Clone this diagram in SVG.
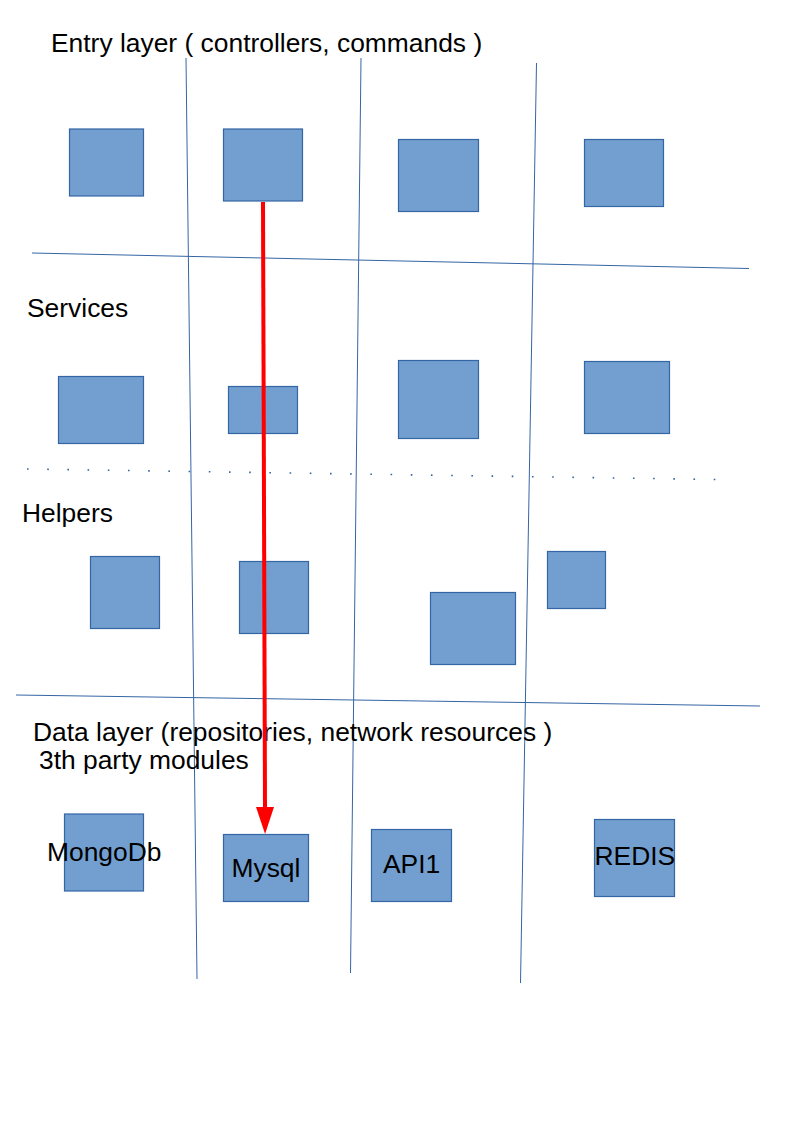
<svg xmlns="http://www.w3.org/2000/svg" width="794" height="1123" viewBox="0 0 794 1123">
<defs>
<style>
.box{fill:#729fcf;stroke:#3465a4;stroke-width:1.2}
.grid{stroke:#3465a4;stroke-width:1;fill:none}
.dots{stroke:#3465a4;stroke-width:1.6;fill:none;stroke-dasharray:1.6 18.6}
.lbl{font-family:"Liberation Sans",Arial,sans-serif;font-size:26.4px;fill:#000}
</style>
<marker id="ah" markerWidth="27" markerHeight="18" refX="0" refY="9" orient="auto" markerUnits="userSpaceOnUse" viewBox="0 0 27 18">
<polygon points="0,0 27,9 0,18" fill="#ff0000"/>
</marker>
</defs>
<rect width="794" height="1123" fill="#ffffff"/>
<g id="grid">
<line class="grid" x1="186" y1="58" x2="197" y2="979"/>
<line class="grid" x1="361" y1="58" x2="350.5" y2="973"/>
<line class="grid" x1="536.5" y1="63" x2="520.5" y2="983"/>
<line class="grid" x1="32" y1="253" x2="749" y2="268.5"/>
<line class="grid" x1="16" y1="695" x2="760" y2="706"/>
<line class="dots" x1="27" y1="469" x2="716" y2="479.5"/>
</g>
<g id="labels">
<text class="lbl" x="51" y="52">Entry layer ( controllers, commands )</text>
<text class="lbl" x="27" y="317">Services</text>
<text class="lbl" x="22" y="522">Helpers</text>
<text class="lbl" x="33" y="741">Data layer (repositories, network resources )</text>
<text class="lbl" x="39" y="769">3th party modules</text>
</g>
<g id="entry-1"><rect class="box" x="69.5" y="129" width="74" height="67"/></g>
<g id="entry-2"><rect class="box" x="223.5" y="129" width="79" height="72"/></g>
<g id="entry-3"><rect class="box" x="398.5" y="139.5" width="80" height="72"/></g>
<g id="entry-4"><rect class="box" x="584.5" y="139.5" width="79" height="67"/></g>
<g id="service-1"><rect class="box" x="58.5" y="376.5" width="85" height="67"/></g>
<g id="service-2"><rect class="box" x="228.5" y="386.5" width="69" height="47"/></g>
<g id="service-3"><rect class="box" x="398.5" y="360.5" width="80" height="78"/></g>
<g id="service-4"><rect class="box" x="584.5" y="361.5" width="85" height="72"/></g>
<g id="helper-1"><rect class="box" x="90.5" y="556.5" width="69" height="72"/></g>
<g id="helper-2"><rect class="box" x="239.5" y="561.5" width="69" height="72"/></g>
<g id="helper-3"><rect class="box" x="430.5" y="592.5" width="85" height="72"/></g>
<g id="helper-4"><rect class="box" x="547.5" y="551.5" width="58" height="57"/></g>
<g id="mongodb"><rect class="box" x="64.5" y="814" width="79" height="77"/><text class="lbl" x="47" y="861">MongoDb</text></g>
<g id="mysql"><rect class="box" x="223.5" y="834.5" width="85" height="67"/><text class="lbl" x="231.5" y="877">Mysql</text></g>
<g id="api1"><rect class="box" x="371.5" y="829.5" width="80" height="72"/><text class="lbl" x="383" y="873">API1</text></g>
<g id="redis"><rect class="box" x="594.5" y="819.5" width="80" height="77"/><text class="lbl" x="594.5" y="865">REDIS</text></g>
<g id="connectors">
<line x1="263" y1="202" x2="265" y2="807" stroke="#ff0000" stroke-width="4" marker-end="url(#ah)"/>
</g>
</svg>
